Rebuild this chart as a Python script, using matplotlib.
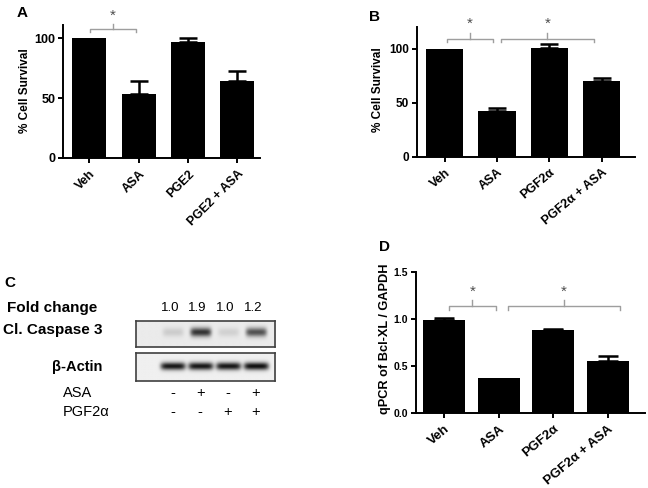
import numpy as np
import matplotlib.pyplot as plt
from matplotlib.transforms import blended_transform_factory

plt.rcParams['font.family'] = ['Liberation Sans', 'DejaVu Sans']

W, H = 648, 488

# ---- data
groups_a = ['Veh', 'ASA', 'PGE2', 'PGE2 + ASA']
surv_a = [100, 53, 96.5, 64]
err_a = [0, 11.5, 4, 8.5]

groups_b = ['Veh', 'ASA', 'PGF2α', 'PGF2α + ASA']
surv_b = [100, 42.5, 101, 70.5]
err_b = [0, 3, 4, 2.5]

groups_d = ['Veh', 'ASA', 'PGF2α', 'PGF2α + ASA']
bclxl_d = [0.99, 0.37, 0.88, 0.55]
err_d = [0.02, 0, 0.015, 0.055]

fold_change = ['1.0', '1.9', '1.0', '1.2']
asa_sign = ['-', '+', '-', '+']
pgf_sign = ['-', '-', '+', '+']
casp_band = [0.12, 0.72, 0.1, 0.6]
actin_band = [0.85, 0.85, 0.85, 0.88]

fig = plt.figure(figsize=(W / 100, H / 100), dpi=100)


def px_axes(x0, y0, x1, y1):
    # axes rect in pixels, origin top-left
    return fig.add_axes([x0 / W, 1 - y1 / H, (x1 - x0) / W, (y1 - y0) / H])


def fy(py):
    return 1 - py / H


def bar_panel(ax, names, vals, errs, ylim, xlim, yticks, width, capsize, xfs, yfs, rot):
    x = np.arange(len(vals))
    ax.bar(x, vals, width=width, color='black', zorder=2)
    e = np.array(errs, dtype=float)
    m = e > 0
    ax.errorbar(x[m], np.array(vals)[m], yerr=[np.zeros(m.sum()), e[m]], fmt='none',
                ecolor='black', elinewidth=1.8, capsize=capsize, capthick=1.8, zorder=1)
    ax.set_xlim(*xlim)
    ax.set_ylim(*ylim)
    ax.set_yticks(yticks)
    ax.set_xticks(x)
    ax.set_xticklabels(names, rotation=rot, ha='right', rotation_mode='anchor',
                       fontweight='bold', fontsize=xfs)
    for lab in ax.get_yticklabels():
        lab.set_fontweight('bold')
        lab.set_fontsize(yfs)
    for s in ['top', 'right']:
        ax.spines[s].set_visible(False)
    for s in ['left', 'bottom']:
        ax.spines[s].set_linewidth(1.4)
    ax.tick_params(width=1.4, length=3.5)
    ax.tick_params(axis='y', pad=2)


def bracket(ax, x0, x1, y, d, u, star_py):
    ax.plot([x0, x0, x1, x1], [y - d, y, y, y - d], color='0.62', lw=1, clip_on=False)
    xm = (x0 + x1) / 2
    ax.plot([xm, xm], [y, y + u], color='0.62', lw=1, clip_on=False)
    tr = blended_transform_factory(ax.transData, fig.transFigure)
    ax.text(xm, fy(star_py), '*', transform=tr, ha='center', va='center',
            fontsize=11, color='0.3')


# ---- panel A
axa = px_axes(63, 25, 260, 158)
bar_panel(axa, groups_a, surv_a, err_a, (0, 111), (-0.53, 3.46), [0, 50, 100],
          0.69, 6.5, 9, 9, 45)
bracket(axa, 0.02, 0.95, 107.5, 2.5, 4, 16)
fig.text(25 / W, fy(91), '% Cell Survival', rotation=90, ha='center', va='center',
         fontweight='bold', fontsize=8.5)
fig.text(22 / W, fy(13), 'A', ha='center', va='center', fontweight='bold', fontsize=11)

# ---- panel B
axb = px_axes(416.7, 26.7, 635, 156.7)
bar_panel(axb, groups_b, surv_b, err_b, (0, 120.7), (-0.535, 3.64), [0, 50, 100],
          0.71, 6.5, 9, 8.5, 40)
bracket(axb, 0.04, 0.92, 109, 2.8, 5.6, 24)
bracket(axb, 1.08, 2.85, 109, 2.8, 5.6, 24)
fig.text(378 / W, fy(90), '% Cell Survival', rotation=90, ha='center', va='center',
         fontweight='bold', fontsize=8.5)
fig.text(375 / W, fy(16.7), 'B', ha='center', va='center', fontweight='bold', fontsize=11)

# ---- panel D
axd = px_axes(416, 272, 645, 413.3)
bar_panel(axd, groups_d, bclxl_d, err_d, (0, 1.5), (-0.52, 3.68), [0, 0.5, 1.0, 1.5],
          0.77, 7, 9.5, 7.5, 40)
axd.set_yticklabels(['0.0', '0.5', '1.0', '1.5'], fontweight='bold', fontsize=7.5)
bracket(axd, 0.09, 0.94, 1.134, 0.04, 0.07, 292)
bracket(axd, 1.16, 3.22, 1.134, 0.04, 0.07, 292)
fig.text(385 / W, fy(339), 'qPCR of Bcl-XL / GAPDH', rotation=90, ha='center', va='center',
         fontweight='bold', fontsize=9.2)
fig.text(385 / W, fy(247), 'D', ha='center', va='center', fontweight='bold', fontsize=11)

# ---- panel C (western blot)
lane_lim = (-1.33, 3.7)


def blot(ax, intens, yc, half_w, half_h, bg):
    xs = np.linspace(lane_lim[0], lane_lim[1], 300)
    ys = np.linspace(0, 1, 60)
    X, Y = np.meshgrid(xs, ys)
    img = np.zeros_like(X)
    for i, v in enumerate(intens):
        img += v * np.exp(-((X - i) / half_w) ** 6) * np.exp(-((Y - yc) / half_h) ** 2)
    shade = np.clip(bg - img, 0, 1)
    ax.imshow(shade, cmap='gray', vmin=0, vmax=1, aspect='auto',
              extent=[lane_lim[0], lane_lim[1], 1, 0], interpolation='bilinear')
    ax.set_xlim(*lane_lim)
    ax.set_ylim(1, 0)
    ax.set_xticks([])
    ax.set_yticks([])
    for s in ax.spines.values():
        s.set_linewidth(1.2)
        s.set_color('0.25')


axc1 = px_axes(135.7, 320.7, 275, 347.3)
blot(axc1, casp_band, 0.45, 0.38, 0.17, 0.92)
axc2 = px_axes(135.7, 352.7, 275, 380.7)
blot(axc2, actin_band, 0.47, 0.45, 0.14, 0.94)

tr = blended_transform_factory(axc2.transData, fig.transFigure)
for i in range(len(fold_change)):
    fig.text(i - 0.1, fy(308), fold_change[i], transform=tr, ha='center', va='center', fontsize=9.5)
    fig.text(i, fy(392.7), asa_sign[i], transform=tr, ha='center', va='center', fontsize=10.5)
    fig.text(i, fy(411.7), pgf_sign[i], transform=tr, ha='center', va='center', fontsize=10.5)

fig.text(10 / W, fy(283), 'C', ha='center', va='center', fontweight='bold', fontsize=11)
fig.text(7 / W, fy(308), 'Fold change', ha='left', va='center', fontweight='bold', fontsize=11)
fig.text(3 / W, fy(330), 'Cl. Caspase 3', ha='left', va='center', fontweight='bold', fontsize=11)
fig.text(102 / W, fy(366.7), 'β-Actin', ha='right', va='center', fontweight='bold', fontsize=10.5)
fig.text(63 / W, fy(392.7), 'ASA', ha='left', va='center', fontsize=10.5)
fig.text(63 / W, fy(411.7), 'PGF2α', ha='left', va='center', fontsize=10.5)

fig.savefig('out.png', dpi=100)
